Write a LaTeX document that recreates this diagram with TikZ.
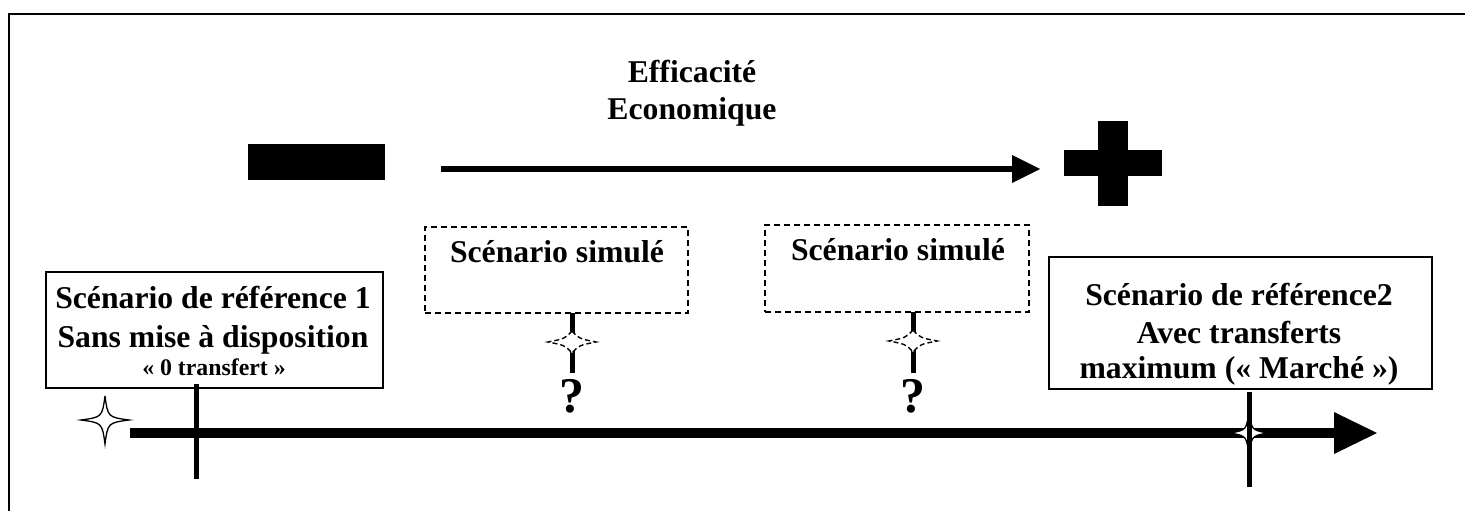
\documentclass[tikz,border=0pt]{standalone}
\usepackage{fontspec}
\setmainfont{Liberation Serif}
\begin{document}
\begin{tikzpicture}[x=1pt,y=-1pt,
  big/.style={anchor=base,inner sep=0pt,font=\fontsize{31.7}{38}\selectfont\bfseries},
  smalltxt/.style={anchor=base,inner sep=0pt,font=\fontsize{23.8}{28}\selectfont\bfseries},
  qmark/.style={anchor=base,inner sep=0pt,font=\fontsize{50}{56}\selectfont\bfseries},
  refbox/.style={draw,line width=1.5pt,inner sep=0pt},
  simbox/.style={draw,line width=1.5pt,dash pattern=on 6pt off 4pt,inner sep=0pt},
  thick axis/.style={line width=10pt},
  tickline/.style={line width=5pt},
  star4/.pic={\path[pic actions] (0,-1) .. controls (0.12,-0.12) .. (1,0)
      .. controls (0.12,0.12) .. (0,1) .. controls (-0.12,0.12) .. (-1,0)
      .. controls (-0.12,-0.12) .. cycle;},
  star4fat/.pic={\path[pic actions] (0,-1) .. controls (0.3,-0.3) .. (1,0)
      .. controls (0.3,0.3) .. (0,1) .. controls (-0.3,0.3) .. (-1,0)
      .. controls (-0.3,-0.3) .. cycle;}
]
\useasboundingbox (0,0) rectangle (1465,511);
% frame
\draw[line width=2pt] (9,511) -- (9,14) -- (1465,14);

% title
\node[big] (tt1) at (692,82) {Efficacité};
\node[big] (tt2) at (692,119) {Economique};

% minus and plus
\fill (248,144) rectangle (385,180);
\fill (1064,150) rectangle (1162,176);
\fill (1098,121) rectangle (1128,206);

% efficiency arrow
\coordinate (eS) at (441,169);
\coordinate (eE) at (1012,169);
\draw[line width=6pt] (eS) -- (eE);
\fill (1012,155) -- (1040,169) -- (1012,183) -- cycle;

% boxes
\node[refbox,minimum width=337pt,minimum height=116pt] (ref1) at (214.5,330) {};
\node[refbox,minimum width=383pt,minimum height=132pt] (ref2) at (1240.5,323) {};
\node[simbox,minimum width=263pt,minimum height=86pt] (simA) at (556.5,270) {};
\node[simbox,minimum width=264pt,minimum height=87pt] (simB) at (897,268.5) {};

\node[big] (r1a) at (213,308) {Scénario de référence 1};
\node[big] (r1b) at (213,347) {Sans mise à disposition};
\node[smalltxt] (r1c) at (214,375) {« 0 transfert »};

\node[big] (r2a) at (1239,305) {Scénario de référence2};
\node[big] (r2b) at (1239,343) {Avec transferts};
\node[big] (r2c) at (1239,378) {maximum (« Marché »)};

\node[big] (sa) at (557,262) {Scénario simulé};
\node[big] (sb) at (898,260) {Scénario simulé};

% main axis
\coordinate (aS) at (130,433);
\coordinate (aE) at (1334,433);
\draw[thick axis] (aS) -- (aE);
\fill (1334,412) -- (1377,433) -- (1334,454) -- cycle;

% reference 1 marker
\pic[draw,fill=white,line width=1.3pt,xscale=24,yscale=24] at (105,420) {star4};
\coordinate (k1t) at (196,384);
\coordinate (k1b) at (196,479);
\draw[tickline] (k1t) -- (k1b);

% reference 2 marker
\pic[draw,fill=white,line width=1.3pt,xscale=19,yscale=24] at (1249,433) {star4};
\coordinate (k2t) at (1249,392);
\coordinate (k2b) at (1249,487);
\draw[tickline] (k2t) -- (k2b);

% simulated scenario A
\coordinate (ca1) at (572,313);
\coordinate (ca2) at (572,373);
\draw[tickline] (ca1) -- (ca2);
\pic[draw,fill=white,line width=1.4pt,dash pattern=on 5pt off 3pt,xscale=24,yscale=11] at (572,342) {star4fat};
\node[qmark] (qa) at (572,412) {?};

% simulated scenario B
\coordinate (cb1) at (913,312);
\coordinate (cb2) at (913,373);
\draw[tickline] (cb1) -- (cb2);
\pic[draw,fill=white,line width=1.4pt,dash pattern=on 5pt off 3pt,xscale=24,yscale=11] at (913,341) {star4fat};
\node[qmark] (qb) at (913,412) {?};
\end{tikzpicture}
\end{document}
